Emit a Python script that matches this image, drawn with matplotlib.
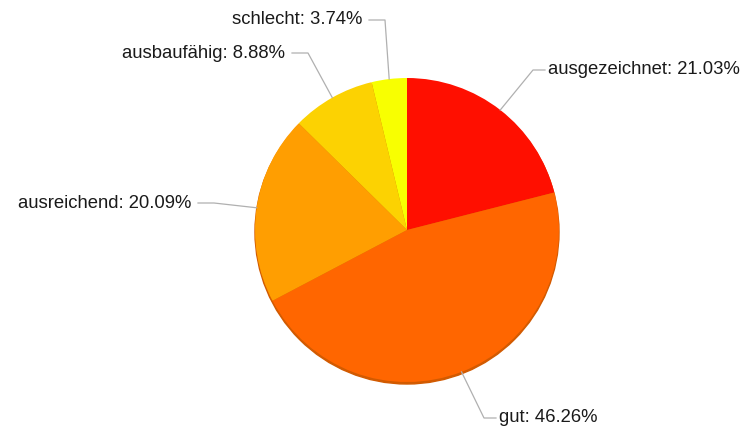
import matplotlib.pyplot as plt
import numpy as np

labels = ['ausgezeichnet', 'gut', 'ausreichend', 'ausbaufähig', 'schlecht']
shares = [21.03, 46.26, 20.09, 8.88, 3.74]
colors = ['#FF0F00', '#FF6600', '#FF9E01', '#FCD202', '#F8FF01']

W, H = 747, 432
cx, cy, r = 407, H - 230, 152

# elbow point of each connector (pixels, from top-left) and which side the text sits on
elbows = [(533, 70), (484, 418), (214, 203), (308, 53), (385, 20)]
sides = ['right', 'right', 'left', 'left', 'left']

fig = plt.figure(figsize=(W / 100, H / 100), dpi=100)
ax = fig.add_axes([0, 0, 1, 1])

# faint shadow under the bottom rim of the pie
shadow = plt.Circle((cx, cy - 2), r, color='#d25a00', zorder=1)
ax.add_patch(shadow)

ax.pie(shares, colors=colors, startangle=90, counterclock=False,
       center=(cx, cy), radius=r, frame=True,
       wedgeprops=dict(linewidth=0, zorder=2))
ax.set_xlim(0, W)
ax.set_ylim(0, H)
ax.set_aspect('equal')
ax.axis('off')

start = 0.0
for lab, val, (ex, ey), side in zip(labels, shares, elbows, sides):
    mid = (start + val / 2) / 100 * 2 * np.pi
    start += val
    px = cx + r * np.sin(mid)
    py = cy + r * np.cos(mid)
    ey = H - ey
    if side == 'right':
        hx = ex + 12
        tx, ha = hx + 3, 'left'
    else:
        hx = ex - 16
        tx, ha = hx - 7, 'right'
    ax.plot([px, ex, hx], [py, ey, ey], color='#b0b0b0', lw=0.9, zorder=3)
    ax.text(tx, ey, f'{lab}: {val:.2f}%', ha=ha, va='center',
            fontsize=13.3, family='Liberation Sans', color='#1a1a1a')

fig.savefig('out.png', dpi=100)
